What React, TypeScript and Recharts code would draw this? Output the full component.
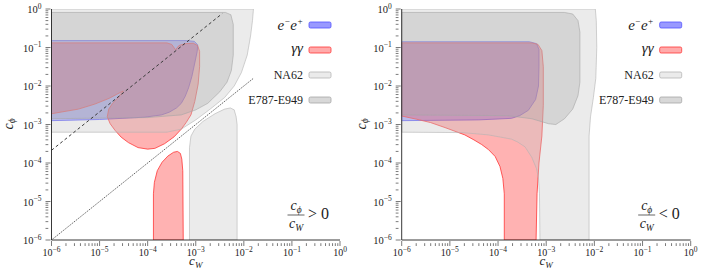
import { ComposedChart, Area, Line, XAxis, YAxis } from "recharts";

// every value is a base-10 exponent: x = log10(c_W), y = log10(c_phi)
const DECADES = [-6, -5, -4, -3, -2, -1, 0];
const MINOR_STEPS = [2, 3, 4, 5, 6, 7, 8, 9];

type P = [number, number];

// ---- c_phi / c_W > 0
const na62Pos: P[] = [
  [-6, 0], [-1.8, 0], [-1.82, -0.3], [-1.86, -0.7], [-1.93, -1.2], [-2.05, -1.65], [-2.2, -2.0],
  [-2.4, -2.3], [-2.7, -2.6], [-3.0, -2.88], [-3.3, -3.12], [-3.6, -3.2], [-6, -3.2],
];
const na62PosLobe: P[] = [
  [-3.13, -6], [-3.13, -3.6], [-3.1, -3.3], [-3.02, -3.12], [-2.85, -2.92], [-2.6, -2.72],
  [-2.4, -2.6], [-2.28, -2.57], [-2.2, -2.62], [-2.16, -2.8], [-2.14, -3.0], [-2.14, -6],
];
const e787Pos: P[] = [
  [-6, -0.09], [-2.38, -0.09], [-2.27, -0.15], [-2.22, -0.4], [-2.22, -1.2], [-2.26, -1.6],
  [-2.35, -1.9], [-2.5, -2.15], [-2.75, -2.45], [-3.0, -2.62], [-3.3, -2.75], [-4, -2.82], [-6, -2.85],
];
const eePos: P[] = [
  [-6, -0.82], [-3.2, -0.82], [-3.03, -0.84], [-2.96, -0.93], [-2.97, -1.1], [-3.02, -1.4],
  [-3.08, -1.75], [-3.15, -2.05], [-3.22, -2.27], [-3.3, -2.45], [-3.4, -2.57], [-3.55, -2.68],
  [-3.71, -2.75], [-4.06, -2.81], [-5, -2.87], [-6, -2.9],
];
const ggPos: P[] = [
  [-6, -0.88], [-3.6, -0.88], [-3.5, -0.92], [-3.42, -1.06], [-3.35, -0.95], [-3.22, -0.9],
  [-3.05, -0.89], [-2.96, -0.95], [-2.92, -1.1], [-2.92, -1.5], [-2.95, -1.95], [-3.02, -2.4],
  [-3.1, -2.75], [-3.2, -2.95], [-3.3, -3.12], [-3.45, -3.32], [-3.65, -3.5], [-3.85, -3.62],
  [-4.0, -3.64], [-4.2, -3.6], [-4.4, -3.47], [-4.55, -3.33], [-4.68, -3.15], [-4.78, -2.98],
  [-4.84, -2.8], [-4.81, -2.6], [-4.73, -2.45], [-4.6, -2.28], [-4.51, -2.13], [-4.65, -2.22],
  [-4.8, -2.32], [-5.1, -2.47], [-5.44, -2.6], [-6, -2.72],
];
const ggPosLobe: P[] = [
  [-3.88, -6], [-3.88, -4.8], [-3.86, -4.5], [-3.8, -4.2], [-3.7, -3.98], [-3.58, -3.82],
  [-3.46, -3.72], [-3.38, -3.7], [-3.32, -3.75], [-3.29, -3.9], [-3.27, -4.2], [-3.26, -6],
];
const dashedLine: P[] = [[-6, -3.67], [-2.45, -0.12]];
const dottedLine: P[] = [[-6, -6], [-1.8, -1.8]];

// ---- c_phi / c_W < 0
const na62Neg: P[] = [
  [-6, 0], [-1.98, 0], [-1.96, -0.3], [-1.95, -1.0], [-1.97, -1.8], [-2.02, -2.3], [-2.08, -2.8],
  [-2.11, -3.3], [-2.11, -6], [-3.13, -6], [-3.14, -4.8], [-3.16, -4.4], [-3.2, -4.15], [-3.3, -3.85],
  [-3.44, -3.58], [-3.6, -3.45], [-3.72, -3.38], [-4.2, -3.27], [-4.75, -3.21], [-6, -3.2],
];
const e787Neg: P[] = [
  [-6, -0.09], [-2.62, -0.09], [-2.45, -0.13], [-2.34, -0.3], [-2.3, -0.6], [-2.3, -1.9],
  [-2.34, -2.25], [-2.45, -2.6], [-2.62, -2.85], [-2.8, -3.0], [-2.95, -2.98], [-3.3, -2.85],
  [-3.8, -2.77], [-6, -2.75],
];
const eeNeg: P[] = [
  [-6, -0.85], [-3.35, -0.85], [-3.2, -0.9], [-3.15, -1.05], [-3.15, -1.5], [-3.16, -2.0],
  [-3.22, -2.35], [-3.37, -2.63], [-3.55, -2.77], [-3.72, -2.84], [-4.4, -2.88], [-6, -2.9],
];
const ggNeg: P[] = [
  [-6, -0.88], [-3.3, -0.88], [-3.17, -0.92], [-3.09, -1.08], [-3.06, -1.5], [-3.06, -2.5],
  [-3.09, -3.3], [-3.15, -4.0], [-3.19, -4.8], [-3.21, -6], [-3.87, -6], [-3.87, -4.8],
  [-3.9, -4.4], [-3.96, -4.09], [-4.06, -3.83], [-4.2, -3.65], [-4.34, -3.52], [-4.5, -3.4],
  [-4.69, -3.27], [-5.1, -3.08], [-5.4, -2.95], [-5.7, -2.86], [-6, -2.78],
];

const W = 353;
const H = 269;
const SERIF = "'Liberation Serif', 'DejaVu Serif', serif";
const INK = "#222";

// grays are translucent and sit on top of the coloured regions
const STYLE = {
  na62: { fill: "rgba(200,200,200,0.36)", stroke: "#b4b4b4", swatch: "#ebebeb" },
  e787: { fill: "rgba(170,170,170,0.34)", stroke: "#a6a6a6", swatch: "#d8d8d8" },
  ee: { fill: "rgba(0,0,255,0.3)", stroke: "#5050ff", swatch: "rgba(0,0,255,0.4)" },
  gg: { fill: "rgba(255,0,0,0.3)", stroke: "#ff3535", swatch: "rgba(255,0,0,0.33)" },
};

const TICKS = DECADES.flatMap(d => (d === 0 ? [0] : [d, ...MINOR_STEPS.map(k => d + Math.log10(k))]));

const closed = (pts: P[]) => [...pts, pts[0]].map(([x, y]) => ({ x, y }));
const open = (pts: P[]) => pts.map(([x, y]) => ({ x, y }));
const isMajor = (v: number) => Math.abs(v - Math.round(v)) < 1e-9;
const expText = (v: number) => {
  const n = Math.round(v);
  return n < 0 ? `−${-n}` : `${n}`;
};

const TickBottom = (p: any) => {
  const m = isMajor(p.payload.value);
  return (
    <g>
      <line x1={p.x} x2={p.x} y1={p.y} y2={p.y - (m ? 5 : 2.8)} stroke={INK} strokeWidth={0.6} />
      {m && (
        <text x={p.x} y={p.y + 10} textAnchor="middle" fontFamily={SERIF} fontSize={10} fill={INK}>
          10<tspan dy={-4.5} fontSize={7.5}>{expText(p.payload.value)}</tspan>
        </text>
      )}
    </g>
  );
};
const TickTop = (p: any) => {
  const m = isMajor(p.payload.value);
  return <line x1={p.x} x2={p.x} y1={p.y} y2={p.y + (m ? 5 : 2.8)} stroke={INK} strokeWidth={0.6} />;
};
const TickLeft = (p: any) => {
  const m = isMajor(p.payload.value);
  return (
    <g>
      <line x1={p.x} x2={p.x + (m ? 5 : 2.8)} y1={p.y} y2={p.y} stroke={INK} strokeWidth={0.6} />
      {m && (
        <text x={p.x - 4} y={p.y + 4} textAnchor="end" fontFamily={SERIF} fontSize={10.5} fill={INK}>
          10<tspan dy={-4.5} fontSize={7.5}>{expText(p.payload.value)}</tspan>
        </text>
      )}
    </g>
  );
};
const TickRight = (p: any) => {
  const m = isMajor(p.payload.value);
  return <line x1={p.x} x2={p.x - (m ? 5 : 2.8)} y1={p.y} y2={p.y} stroke={INK} strokeWidth={0.6} />;
};

function region(pts: P[], kind: keyof typeof STYLE, key: string) {
  const s = STYLE[kind];
  return (
    <Area
      key={key}
      data={closed(pts)}
      dataKey="y"
      type="linear"
      fill={s.fill}
      fillOpacity={1}
      stroke={s.stroke}
      strokeWidth={kind === "na62" || kind === "e787" ? 0.6 : 0.8}
      dot={false}
      activeDot={false}
      isAnimationActive={false}
    />
  );
}

function Legend({ right }: { right: number }) {
  const rows = [
    { y: 25, kind: "ee" as const },
    { y: 50, kind: "gg" as const },
    { y: 75, kind: "na62" as const },
    { y: 100, kind: "e787" as const },
  ];
  const tx = right - 37;
  return (
    <g fontFamily={SERIF} fill={INK}>
      {rows.map(r => (
        <rect key={r.kind} x={right - 31} y={r.y - 3} width={22} height={6} rx={1.5}
          fill={STYLE[r.kind].swatch} stroke={STYLE[r.kind].stroke} strokeWidth={0.8} />
      ))}
      <text x={tx} y={29.5} textAnchor="end" fontSize={15} fontStyle="italic">
        e<tspan dy={-5.5} fontSize={9}>−</tspan><tspan dy={5.5}>e</tspan><tspan dy={-5.5} fontSize={9}>+</tspan>
      </text>
      <text x={tx} y={53} textAnchor="end" fontSize={15} fontStyle="italic">γγ</text>
      <text x={tx} y={79} textAnchor="end" fontSize={12}>NA62</text>
      <text x={tx} y={104} textAnchor="end" fontSize={12}>E787-E949</text>
    </g>
  );
}

function Panel({ positive, ml, mr }: { positive: boolean; ml: number; mr: number }) {
  const plotR = W - mr;
  const cx = (ml + plotR) / 2;
  const fx = plotR - 44;
  const regions = positive
    ? [
        region(eePos, "ee", "b"),
        region(ggPos, "gg", "r1"),
        region(ggPosLobe, "gg", "r2"),
        region(na62Pos, "na62", "n1"),
        region(na62PosLobe, "na62", "n2"),
        region(e787Pos, "e787", "e"),
      ]
    : [
        region(eeNeg, "ee", "b"),
        region(ggNeg, "gg", "r1"),
        region(na62Neg, "na62", "n1"),
        region(e787Neg, "e787", "e"),
      ];
  return (
    <div style={{ position: "relative", width: W, height: H }}>
      <ComposedChart width={W} height={H} margin={{ top: 9, right: mr, bottom: 0, left: 0 }}>
        {regions}
        {positive && (
          <Line data={open(dashedLine)} dataKey="y" type="linear" stroke="#3a3a3a" strokeWidth={1}
            strokeDasharray="3 2.6" dot={false} activeDot={false} isAnimationActive={false} />
        )}
        {positive && (
          <Line data={open(dottedLine)} dataKey="y" type="linear" stroke="#222" strokeWidth={0.7}
            strokeDasharray="1.4 1" dot={false} activeDot={false} isAnimationActive={false} />
        )}
        <XAxis dataKey="x" type="number" domain={[-6, 0]} allowDataOverflow ticks={TICKS} interval={0}
          height={29} tickLine={false} tickMargin={0} tick={TickBottom} axisLine={{ stroke: INK, strokeWidth: 0.9 }} />
        <XAxis xAxisId="top" orientation="top" dataKey="x" type="number" domain={[-6, 0]} allowDataOverflow
          ticks={TICKS} interval={0} height={0} tickLine={false} tickMargin={0} tick={TickTop}
          axisLine={{ stroke: INK, strokeWidth: 0.9 }} />
        <YAxis type="number" domain={[-6, 0]} allowDataOverflow ticks={TICKS} interval={0} width={ml}
          tickLine={false} tickMargin={0} tick={TickLeft} axisLine={{ stroke: INK, strokeWidth: 0.9 }} />
        <YAxis yAxisId="right" orientation="right" type="number" domain={[-6, 0]} allowDataOverflow
          ticks={TICKS} interval={0} width={0} tickLine={false} tickMargin={0} tick={TickRight}
          axisLine={{ stroke: INK, strokeWidth: 0.9 }} />
      </ComposedChart>
      <svg width={W} height={H} style={{ position: "absolute", left: 0, top: 0, pointerEvents: "none" }}>
        <Legend right={plotR} />
        <g fontFamily={SERIF} fill={INK} fontStyle="italic">
          <text x={cx} y={265} textAnchor="middle" fontSize={13}>
            c<tspan dy={2.5} fontSize={9}>W</tspan>
          </text>
          <text transform="translate(12.5,124) rotate(-90)" textAnchor="middle" fontSize={14}>
            c<tspan dy={2.5} fontSize={9.5}>ϕ</tspan>
          </text>
          <text x={fx} y={209.5} textAnchor="middle" fontSize={14}>
            c<tspan dy={3} fontSize={9.5}>ϕ</tspan>
          </text>
          <line x1={fx - 8.5} x2={fx + 8.5} y1={215} y2={215} stroke={INK} strokeWidth={0.7} />
          <text x={fx} y={227.5} textAnchor="middle" fontSize={14}>
            c<tspan dy={3} fontSize={9.5}>W</tspan>
          </text>
          <text x={fx + 12} y={219} fontSize={16} fontStyle="normal">
            {positive ? "> 0" : "< 0"}
          </text>
        </g>
      </svg>
    </div>
  );
}

export default function App() {
  return (
    <div style={{ position: "absolute", left: 0, top: 0, width: 706, height: 269, background: "#fff", display: "flex" }}>
      <Panel positive ml={51.5} mr={13} />
      <Panel positive={false} ml={48.7} mr={15.3} />
    </div>
  );
}
